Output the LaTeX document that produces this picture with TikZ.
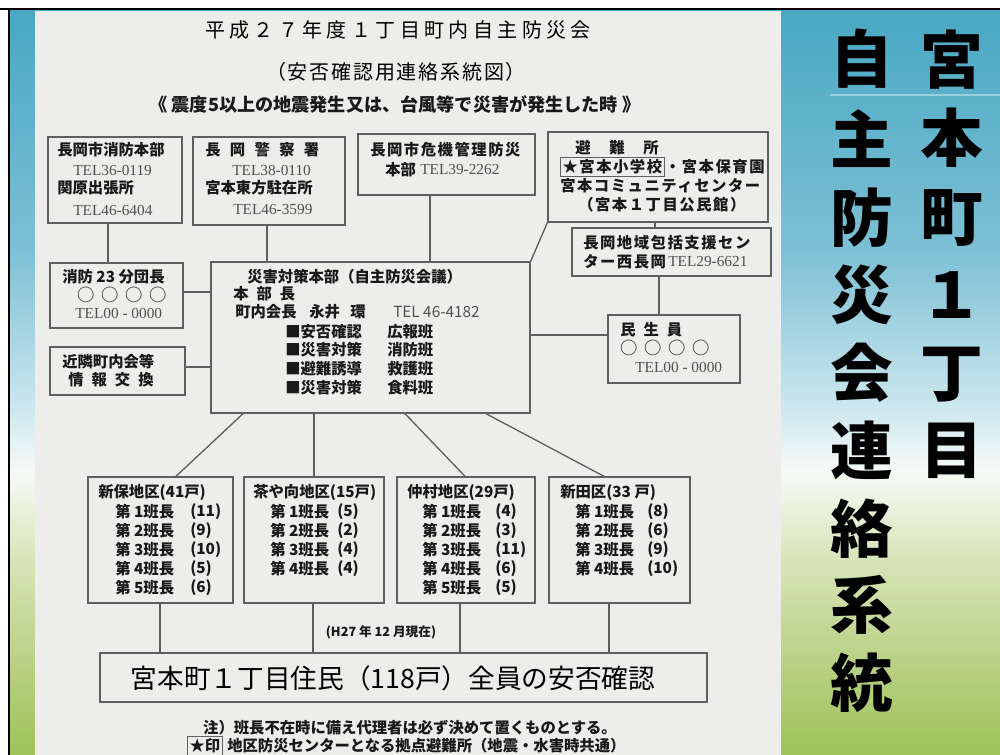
\documentclass[tikz,border=0pt]{standalone}
\usepackage{fontspec}
\setmainfont{Noto Sans CJK JP}
\newfontfamily\jp{Noto Sans CJK JP}
\newfontfamily\telf{Liberation Serif}
\usetikzlibrary{fit}
\newcommand{\jgap}[1]{\hspace*{#1pt}}
\definecolor{ink}{RGB}{25,25,25}
\definecolor{telgray}{RGB}{80,80,80}
\definecolor{boxline}{RGB}{95,95,95}
\definecolor{paper}{RGB}{237,237,235}
\definecolor{gA}{RGB}{72,168,195}
\definecolor{gB}{RGB}{125,192,213}
\definecolor{gC}{RGB}{200,229,237}
\definecolor{gD}{RGB}{246,250,247}
\definecolor{gE}{RGB}{214,229,183}
\definecolor{gF}{RGB}{188,211,138}
\definecolor{gG}{RGB}{160,194,88}
\tikzset{
  t/.style={inner sep=0pt, anchor=west, text=ink, font=\bfseries\fontsize{11.5}{13}\selectfont},
  tw/.style={t, font=\bfseries\fontsize{11.5}{13}\selectfont\addfontfeature{LetterSpace=10}},
  tel/.style={inner sep=0pt, anchor=west, text=telgray, font=\telf\fontsize{11.5}{13}\selectfont},
  circ/.style={inner sep=0pt, anchor=west, text=ink, font=\fontsize{13}{14}\selectfont},
  box/.style={draw=boxline, line width=1pt, fill=paper, inner sep=0pt},
  conn/.style={draw=boxline, line width=1pt},
  rchar/.style={inner sep=0pt, text=black, font=\bfseries\fontsize{47}{47}\selectfont},
}
\begin{document}
\begin{tikzpicture}[x=0.75pt,y=-0.75pt]
\useasboundingbox (0,0) rectangle (1000,755);
\fill[white] (0,0) rectangle (1000,755);
% background gradient
\shade[top color=gA,bottom color=gB] (10,10) rectangle (1000,251);
\shade[top color=gB,bottom color=gC] (10,250) rectangle (1000,401);
\shade[top color=gC,bottom color=gD] (10,400) rectangle (1000,471);
\shade[top color=gD,bottom color=gE] (10,470) rectangle (1000,561);
\shade[top color=gE,bottom color=gF] (10,560) rectangle (1000,651);
\shade[top color=gF,bottom color=gG] (10,650) rectangle (1000,755);
\draw[white, opacity=0.4, line width=0.8pt] (830,95) -- (1000,95);
% paper
\fill[paper] (35,11) rectangle (781,755);
% black frame
\draw[black, line width=2.2pt] (0,9) -- (1000,9);
\draw[black, line width=2.2pt] (9,9) -- (9,755);

% titles
\node[inner sep=0pt, text=black, font=\fontsize{15}{16}\selectfont\addfontfeature{LetterSpace=22}] (ti1) at (398,30) {平成２７年度１丁目町内自主防災会};
\node[inner sep=0pt, text=black, font=\fontsize{15}{16}\selectfont\addfontfeature{LetterSpace=9}] (ti2) at (396,72) {（安否確認用連絡系統図）};
\node[inner sep=0pt, text=ink, font=\bfseries\fontsize{13.6}{14}\selectfont] (ti3) at (395,104) {《 震度5以上の地震発生又は、台風等で災害が発生した時 》};

% boxes
\node[box, fit={(48,137) (182,223)}] (A) {};
\node[box, fit={(193,137) (345,225)}] (B) {};
\node[box, fit={(358,134) (535,195)}] (C) {};
\node[box, fit={(548,132) (768,222)}] (D) {};
\node[box, fit={(572,228) (771,276)}] (E) {};
\node[box, fit={(50,263) (183,328)}] (G) {};
\node[box, fit={(50,347) (185,395)}] (H) {};
\node[box, fit={(211,262) (530,413)}] (M) {};
\node[box, fit={(608,315) (740,383)}] (F) {};
\node[box, fit={(88,477) (233,603)}] (D1) {};
\node[box, fit={(244,477) (384,603)}] (D2) {};
\node[box, fit={(397,477) (535,603)}] (D3) {};
\node[box, fit={(549,477) (690,603)}] (D4) {};
\node[box, fit={(100,653) (707,702)}] (BIG) {};

% helper coordinates
\coordinate (xa) at (108,0);
\coordinate (xb) at (267,0);
\coordinate (xc) at (430,0);
\coordinate (xd) at (655,0);
\coordinate (xe) at (659,0);
\coordinate (yg) at (0,292);
\coordinate (yh) at (0,367);
\coordinate (yf) at (0,335);
\coordinate (m1) at (243,0);
\coordinate (k1) at (176,0);
\coordinate (m3) at (405,0);
\coordinate (k3) at (465,0);
\coordinate (m4) at (486,0);
\coordinate (k4) at (604,0);
\coordinate (b1) at (160,0);
\coordinate (b2) at (313,0);
\coordinate (b3) at (460,0);
\coordinate (b4) at (609,0);

% connectors
\draw[conn] (A.south -| xa) -- (G.north -| xa);
\draw[conn] (B.south -| xb) -- (M.north -| xb);
\draw[conn] (C.south -| xc) -- (M.north -| xc);
\draw[conn] (D.south west) -- (M.north east);
\draw[conn] (D.south -| xd) -- (E.north -| xd);
\draw[conn] (E.south -| xe) -- (F.north -| xe);
\draw[conn] (G.east |- yg) -- (M.west |- yg);
\draw[conn] (H.east |- yh) -- (M.west |- yh);
\draw[conn] (M.east |- yf) -- (F.west |- yf);
\draw[conn] (M.south -| m1) -- (D1.north -| k1);
\draw[conn] (M.south -| D2.north) -- (D2.north);
\draw[conn] (M.south -| m3) -- (D3.north -| k3);
\draw[conn] (M.south -| m4) -- (D4.north -| k4);
\draw[conn] (D1.south -| b1) -- (BIG.north -| b1);
\draw[conn] (D2.south -| b2) -- (BIG.north -| b2);
\draw[conn] (D3.south -| b3) -- (BIG.north -| b3);
\draw[conn] (D4.south -| b4) -- (BIG.north -| b4);

% box A
\node[t] (a1) at (57,150) {長岡市消防本部};
\node[tel] (a2) at (73,170) {TEL36-0119};
\node[t] (a3) at (57,188) {関原出張所};
\node[tel] (a4) at (73,210) {TEL46-6404};
% box B
\node[t] (b1t) at (205,150) {長\jgap{7}岡\jgap{7}警\jgap{7}察\jgap{7}署};
\node[tel] (b2t) at (232,170) {TEL38-0110};
\node[t] (b3t) at (205,188) {宮本東方駐在所};
\node[tel] (b4t) at (233,210) {TEL46-3599};
% box C
\node[tw] (c1) at (370,150) {長岡市危機管理防災};
\node[t] (c2) at (385,170) {本部};
\node[tel] (c3) at (420,170) {TEL39-2262};
% box D
\node[t] (d1) at (575,148) {避\jgap{14}難\jgap{14}所};
\node[tw, draw=boxline, line width=0.8pt, inner sep=1.5pt] (d2) at (560,167) {★宮本小学校};
\node[tw] (d3) at (d2.east) {・宮本保育園};
\node[tw] (d4) at (560,186) {宮本コミュニティセンター};
\node[tw] (d5) at (578,205) {（宮本１丁目公民館）};
% box E
\node[tw] (e1) at (583,243) {長岡地域包括支援セン};
\node[tw] (e2) at (583,262) {ター西長岡};
\node[tel] (e3) at (668,262) {TEL29-6621};
% box G
\node[t] (g1) at (62,277) {消防 23 分団長};
\node[circ] (g2) at (77,295) {○\jgap{5}○\jgap{5}○\jgap{5}○};
\node[tel] (g3) at (75,313) {TEL00 - 0000};
% box H
\node[t] (h1) at (62,362) {近隣町内会等};
\node[t] (h2) at (68,380) {情\jgap{6}報\jgap{6}交\jgap{6}換};
% main box
\node[t] (m1t) at (247,277) {災害対策本部（自主防災会議）};
\node[t] (m2t) at (233,294) {本\jgap{6}部\jgap{6}長};
\node[t] (m3t) at (235,312) {町内会長};
\node[t] (m4t) at (309,312) {永井};
\node[t] (m5t) at (350,312) {環};
\node[inner sep=0pt, anchor=west, text=telgray, font=\fontsize{11.5}{13}\selectfont] (m6t) at (393,312) {TEL 46-4182};
\node[t] (r1a) at (285,332) {■安否確認};
\node[t] (r1b) at (387,332) {広報班};
\node[t] (r2a) at (285,350) {■災害対策};
\node[t] (r2b) at (387,350) {消防班};
\node[t] (r3a) at (285,369) {■避難誘導};
\node[t] (r3b) at (387,369) {救護班};
\node[t] (r4a) at (285,388) {■災害対策};
\node[t] (r4b) at (387,388) {食料班};
% box F
\node[t] (f1) at (620,330) {民\jgap{6}生\jgap{6}員};
\node[circ] (f2) at (620,348) {○\jgap{5}○\jgap{5}○\jgap{5}○};
\node[tel] (f3) at (635,367) {TEL00 - 0000};

% district 1
\node[t] (p0) at (98,493) {新保地区(41戸)};
\node[t] (p1) at (115,512) {第 1班長}; \node[t] (p1n) at (190,512) {(11)};
\node[t] (p2) at (115,531) {第 2班長}; \node[t] (p2n) at (190,531) {(9)};
\node[t] (p3) at (115,550) {第 3班長}; \node[t] (p3n) at (190,550) {(10)};
\node[t] (p4) at (115,569) {第 4班長}; \node[t] (p4n) at (190,569) {(5)};
\node[t] (p5) at (115,588) {第 5班長}; \node[t] (p5n) at (190,588) {(6)};
% district 2
\node[t] (q0) at (253,493) {茶や向地区(15戸)};
\node[t] (q1) at (270,512) {第 1班長}; \node[t] (q1n) at (337,512) {(5)};
\node[t] (q2) at (270,531) {第 2班長}; \node[t] (q2n) at (337,531) {(2)};
\node[t] (q3) at (270,550) {第 3班長}; \node[t] (q3n) at (337,550) {(4)};
\node[t] (q4) at (270,569) {第 4班長}; \node[t] (q4n) at (337,569) {(4)};
% district 3
\node[t] (s0) at (407,493) {仲村地区(29戸)};
\node[t] (s1) at (422,512) {第 1班長}; \node[t] (s1n) at (495,512) {(4)};
\node[t] (s2) at (422,531) {第 2班長}; \node[t] (s2n) at (495,531) {(3)};
\node[t] (s3) at (422,550) {第 3班長}; \node[t] (s3n) at (495,550) {(11)};
\node[t] (s4) at (422,569) {第 4班長}; \node[t] (s4n) at (495,569) {(6)};
\node[t] (s5) at (422,588) {第 5班長}; \node[t] (s5n) at (495,588) {(5)};
% district 4
\node[t] (u0) at (560,493) {新田区(33 戸)};
\node[t] (u1) at (575,512) {第 1班長}; \node[t] (u1n) at (647,512) {(8)};
\node[t] (u2) at (575,531) {第 2班長}; \node[t] (u2n) at (647,531) {(6)};
\node[t] (u3) at (575,550) {第 3班長}; \node[t] (u3n) at (647,550) {(9)};
\node[t] (u4) at (575,569) {第 4班長}; \node[t] (u4n) at (647,569) {(10)};

% date and big text
\node[inner sep=0pt, text=ink, font=\bfseries\fontsize{9.5}{11}\selectfont] (date) at (381,632) {(H27 年 12 月現在)};
\node[inner sep=0pt, text=black, font=\fontsize{20}{22}\selectfont] (bigt) at (393,678) {宮本町１丁目住民（118戸）全員の安否確認};

% footer
\node[inner sep=0pt, text=ink, font=\bfseries\fontsize{11.5}{13}\selectfont] (n1) at (410,728) {注）班長不在時に備え代理者は必ず決めて置くものとする。};
\node[t, draw=boxline, line width=0.8pt, inner sep=1.5pt] (n2) at (187,746) {★印};
\node[t] (n3) at (227,746) {地区防災センターとなる拠点避難所（地震・水害時共通）};

% right panel
\node[rchar] (w1) at (952,60) {宮};
\node[rchar] (w2) at (952,138) {本};
\node[rchar] (w3) at (952,218) {町};
\node[rchar] (w4) at (952,295) {１};
\node[rchar] (w5) at (952,375) {丁};
\node[rchar] (w6) at (952,451) {目};
\node[rchar] (v1) at (862,59) {自};
\node[rchar] (v2) at (862,139) {主};
\node[rchar] (v3) at (862,218) {防};
\node[rchar] (v4) at (862,295) {災};
\node[rchar] (v5) at (862,373) {会};
\node[rchar] (v6) at (862,450) {連};
\node[rchar] (v7) at (862,529) {絡};
\node[rchar] (v8) at (862,605) {系};
\node[rchar] (v9) at (862,683) {統};
\end{tikzpicture}
\end{document}
